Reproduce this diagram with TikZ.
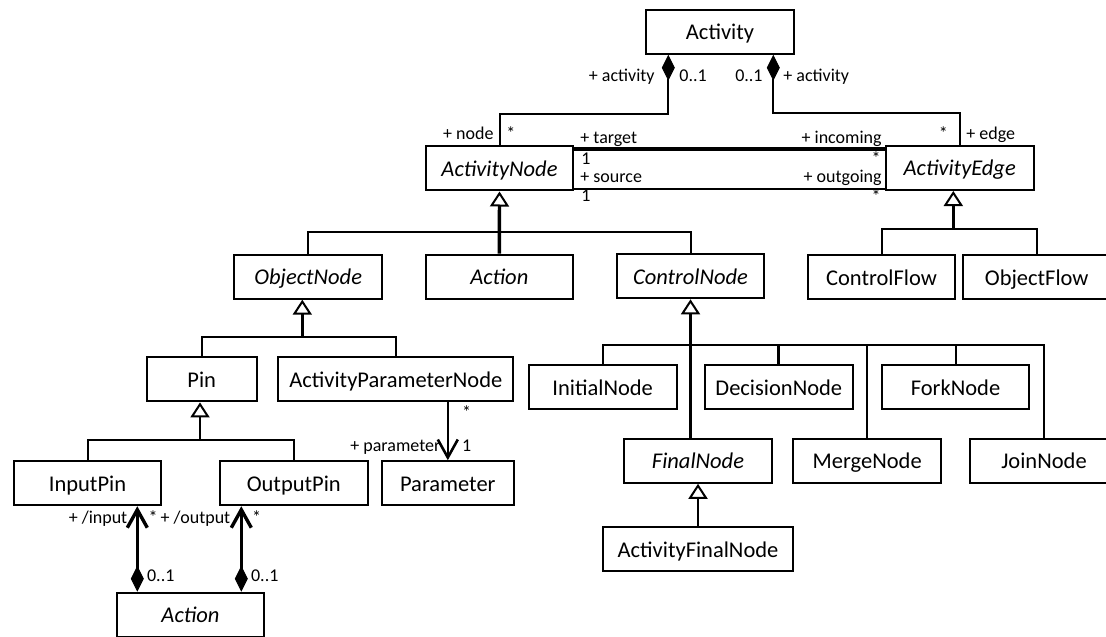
\documentclass[tikz,border=0pt]{standalone}
\usepackage{fontspec}
\setmainfont{Carlito}
\usetikzlibrary{arrows.meta,calc}

\tikzset{
  cls/.style={draw, line width=1pt, minimum width=73.8pt, minimum height=22pt,
    inner sep=0pt, text height=1em, text depth=0.2em,
    font=\fontsize{11.25}{13}\selectfont},
  abstract/.style={cls, font=\fontsize{11.25}{13}\selectfont\itshape},
  lbl/.style={inner sep=0pt, font=\fontsize{9}{10}\selectfont},
  link/.style={line width=1pt},
  heavy/.style={line width=1.7pt},
  gen/.style={-{Triangle[open, length=7.5pt, width=9.5pt, line width'=1pt]}},
  comp/.style={{Diamond[length=13pt, width=6.5pt, line width'=0.5pt]}-},
  nav/.style={-{Straight Barb[length=9pt, width=10pt]}},
  compnav/.style={{Diamond[length=13pt, width=6.5pt, line width'=0.5pt]}-{Straight Barb[length=9pt, width=10pt]}},
}

\begin{document}
\begin{tikzpicture}[x=0.5pt, y=-0.5pt]
\useasboundingbox (0,0) rectangle (1106,636);
\clip (0,0) rectangle (1106,636);

% classes
\node[cls] (activity) at (720,31.7) {Activity};
\node[abstract] (anode) at (499.5,168.5) {ActivityNode};
\node[abstract] (aedge) at (959.7,168) {ActivityEdge};
\node[abstract] (onode) at (308.2,276.7) {ObjectNode};
\node[abstract] (action) at (499.3,276.7) {Action};
\node[abstract] (cnode) at (690.5,276.3) {ControlNode};
\node[cls] (cflow) at (881.5,277) {ControlFlow};
\node[cls] (oflow) at (1036.7,277) {ObjectFlow};
\node[cls, minimum width=55pt] (pin) at (201.7,379.4) {Pin};
\node[cls, minimum width=117.5pt] (apn) at (395.8,379.4) {ActivityParameterNode};
\node[cls] (initial) at (602.7,387.2) {InitialNode};
\node[cls] (decision) at (778.8,387.2) {DecisionNode};
\node[cls] (fork) at (955.5,387.2) {ForkNode};
\node[abstract] (final) at (698,460.8) {FinalNode};
\node[cls] (merge) at (867.2,460.8) {MergeNode};
\node[cls] (join) at (1044,460.8) {JoinNode};
\node[cls, minimum width=95.3pt] (afinal) at (698,549.3) {ActivityFinalNode};
\node[cls] (inpin) at (87.5,483.2) {InputPin};
\node[cls] (outpin) at (293.8,483.2) {OutputPin};
\node[cls, minimum width=66.2pt] (param) at (447.8,483.2) {Parameter};
\node[abstract] (pinaction) at (190.5,614.7) {Action};

% compositions owned by Activity
\draw[link, comp] ($(activity.south)+(-51.7,0)$) -- ++(0,59) -| (anode.north);
\draw[link, comp] ($(activity.south)+(53.3,0)$) -- ++(0,58.6) -| (aedge.north);

% target / source associations
\coordinate (tgt) at ($(anode.north east)+(0,3.5)$);
\draw[heavy] (tgt) -- (tgt -| aedge.west);
\coordinate (src) at ($(anode.south east)+(0,-2.5)$);
\draw[line width=1.3pt] (src) -- (src -| aedge.west);

% generalization of ActivityNode
\coordinate (jA) at ($(anode.south)+(0,40.2)$);
\draw[heavy, gen] (action.north) -- (anode.south);
\draw[link] (onode.north) |- (jA) -| (cnode.north);

% generalization of ActivityEdge
\coordinate (jE) at ($(aedge.south)+(-6.4,37.7)$);
\draw[heavy, gen] (jE) -- (jE |- aedge.south);
\draw[link] (cflow.north) |- (jE) -| (oflow.north);

% generalization of ObjectNode
\coordinate (jO) at ($(onode.south)+(-5.9,37.3)$);
\draw[heavy, gen] (jO) -- (jO |- onode.south);
\draw[link] (pin.north) |- (jO) -| (apn.north);

% generalization of ControlNode
\coordinate (jC) at ($(cnode.south)+(0,45.8)$);
\draw[heavy, gen] (final.north -| cnode.south) -- (cnode.south);
\draw[link] (initial.north) |- (jC) -| (join.north);
\draw[link] (merge.north) -- (merge.north |- jC);
\draw[link] (fork.north) -- (fork.north |- jC);
\draw[line width=1.5pt] (decision.north) -- (decision.north |- jC);

% generalization of Pin
\coordinate (jP) at ($(pin.south)+(-1.7,37.6)$);
\draw[link, gen] (jP) -- (jP |- pin.south);
\draw[link] (inpin.north) |- (jP) -| (outpin.north);

% generalization of FinalNode
\draw[line width=1.2pt, gen] (afinal.north) -- (final.south);

% parameter association
\draw[line width=1.3pt, nav] (apn.south -| param.north) -- (param.north);

% pins owned by an action
\coordinate (ci) at ($(pinaction.north west)+(21.6,0)$);
\draw[heavy, compnav] (ci) -- (ci |- inpin.south);
\coordinate (co) at ($(pinaction.north west)+(125.6,0)$);
\draw[heavy, compnav] (co) -- (co |- outpin.south);

% role names and multiplicities
\node[lbl, anchor=base east] (l1) at (655,82) {+ activity};
\node[lbl, anchor=base west] (l2) at (679,82) {0..1};
\node[lbl, anchor=base east] (l3) at (763,82) {0..1};
\node[lbl, anchor=base west] (l4) at (783,82) {+ activity};
\node[lbl, anchor=base east] (l5) at (494,140) {+ node};
\node[lbl, anchor=base west] (l6) at (506,140) {*};
\node[lbl, anchor=base east] (l7) at (948.3,140) {*};
\node[lbl, anchor=base west] (l8) at (966,140) {+ edge};
\node[lbl, anchor=base west] (l9) at (580,144) {+ target};
\node[lbl, anchor=base west] (l10) at (581,165) {1};
\node[lbl, anchor=base west] (l11) at (580,182.5) {+ source};
\node[lbl, anchor=base west] (l12) at (581,201.5) {1};
\node[lbl, anchor=base east] (l13) at (882,144) {+ incoming};
\node[lbl, anchor=base east] (l14) at (881,165) {*};
\node[lbl, anchor=base east] (l15) at (882,182.5) {+ outgoing};
\node[lbl, anchor=base east] (l16) at (881,203) {*};
\node[lbl, anchor=base west] (l17) at (461.7,418) {*};
\node[lbl, anchor=base east] (l18) at (440.7,451) {+ parameter};
\node[lbl, anchor=base west] (l19) at (461.7,451) {1};
\node[lbl, anchor=base east] (l20) at (127.7,523) {+ /input};
\node[lbl, anchor=base west] (l21) at (148.3,523) {*};
\node[lbl, anchor=base east] (l22) at (230.7,523) {+ /output};
\node[lbl, anchor=base west] (l23) at (251.7,523) {*};
\node[lbl, anchor=base west] (l24) at (146.7,581.7) {0..1};
\node[lbl, anchor=base west] (l25) at (250.7,581.7) {0..1};
\end{tikzpicture}
\end{document}
